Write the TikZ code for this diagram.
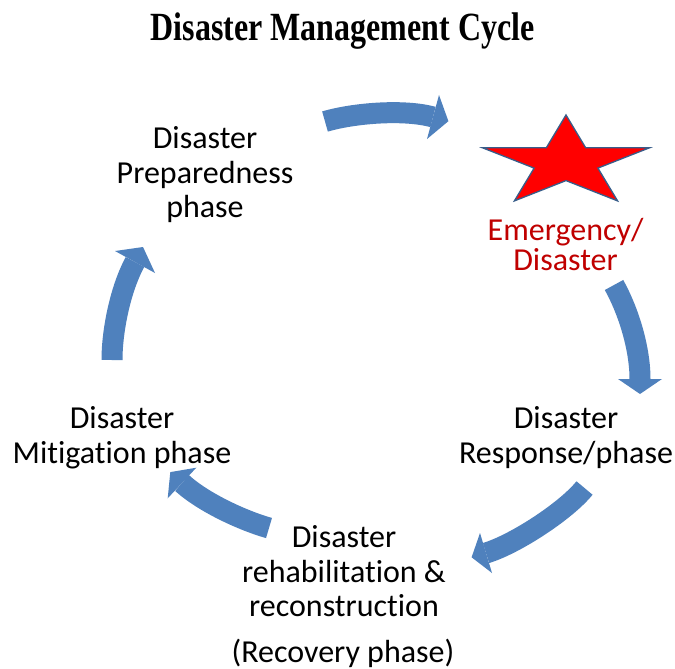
\documentclass[tikz,border=0pt]{standalone}
\usepackage{fontspec}
\setmainfont{Carlito}[Ligatures=NoCommon]
\newfontfamily\titlefont{Liberation Serif}
\definecolor{arrowblue}{HTML}{4F81BD}
\definecolor{darkred}{HTML}{C00000}
\definecolor{staredge}{HTML}{385D8A}
\tikzset{
  lbl/.style={anchor=base, inner sep=0pt, font=\fontsize{32}{32}\selectfont},
  redlbl/.style={lbl, text=darkred},
  arrowbody/.style={draw=arrowblue, line width=21pt, line cap=butt},
  arrowtip/.style={fill=arrowblue, draw=none},
}
\begin{document}
\begin{tikzpicture}[x=1pt, y=-1pt]
\useasboundingbox (0,0) rectangle (675,669);
\fill[white] (0,0) rectangle (675,669);

% title
\node[anchor=base, inner sep=0pt] (title) at (342.5,41)
  {\scalebox{0.80}[1]{\titlefont\bfseries\fontsize{40}{40}\selectfont Disaster Management Cycle}};

% star
\filldraw[fill=red, draw=staredge, line width=1.3pt]
  (566,115) -- (585.7,147.8) -- (649.5,147.8) -- (597.9,168.1) -- (617.6,200.9)
  -- (566,180.6) -- (514.4,200.9) -- (534.1,168.1) -- (482.5,147.8) -- (546.3,147.8) -- cycle;

% labels
\node[lbl] (prep1) at (205,148) {Disaster};
\node[lbl] (prep2) at (205,183) {Preparedness};
\node[lbl] (prep3) at (205,217) {phase};

\node[redlbl] (emer1) at (565.5,240) {Emergency/};
\node[redlbl] (emer2) at (565.5,270) {Disaster};

\node[lbl] (resp1) at (566,428) {Disaster};
\node[lbl] (resp2) at (566,463) {Response/phase};

\node[lbl] (miti1) at (122,428) {Disaster};
\node[lbl] (miti2) at (122,463) {Mitigation phase};

\node[lbl] (reha1) at (344,547) {Disaster};
\node[lbl] (reha2) at (344,582) {rehabilitation \&};
\node[lbl] (reha3) at (344,616) {reconstruction};
\node[lbl] (reco) at (343,662) {(Recovery phase)};

% arrow 1 (top)
\coordinate (a1s) at (325,121.5);
\coordinate (a1e) at (433,117);
\draw[arrowbody] (a1s) .. controls (354,113) and (404,109) .. (a1e);
\fill[arrowtip] (439,95) -- (448.4,121.2) -- (427,139) -- cycle;

% arrow 2 (right)
\coordinate (a2s) at (614,285);
\coordinate (a2e) at (640,379);
\draw[arrowbody] (a2s) .. controls (629,312) and (640,349) .. (a2e);
\fill[arrowtip] (618,379) -- (662,379) -- (640,394) -- cycle;

% arrow 3 (bottom right)
\coordinate (a3s) at (584.5,488);
\coordinate (a3e) at (486,553);
\draw[arrowbody] (a3s) .. controls (566,511) and (514.7,544.4) .. (a3e);
\fill[arrowtip] (480,533) -- (471.6,557.3) -- (492,573) -- cycle;

% arrow 4 (bottom left)
\coordinate (a4s) at (269,528);
\coordinate (a4e) at (182,483);
\draw[arrowbody] (a4s) .. controls (244,521) and (204,503) .. (a4e);
\fill[arrowtip] (196.3,467.7) -- (170.3,472.1) -- (167.7,498.3) -- cycle;

% arrow 5 (left)
\coordinate (a5s) at (112,360);
\coordinate (a5e) at (135,262);
\draw[arrowbody] (a5s) .. controls (112,330) and (120.6,288.4) .. (a5e);
\fill[arrowtip] (115,251) -- (143,247) -- (155,273) -- cycle;
\end{tikzpicture}
\end{document}
